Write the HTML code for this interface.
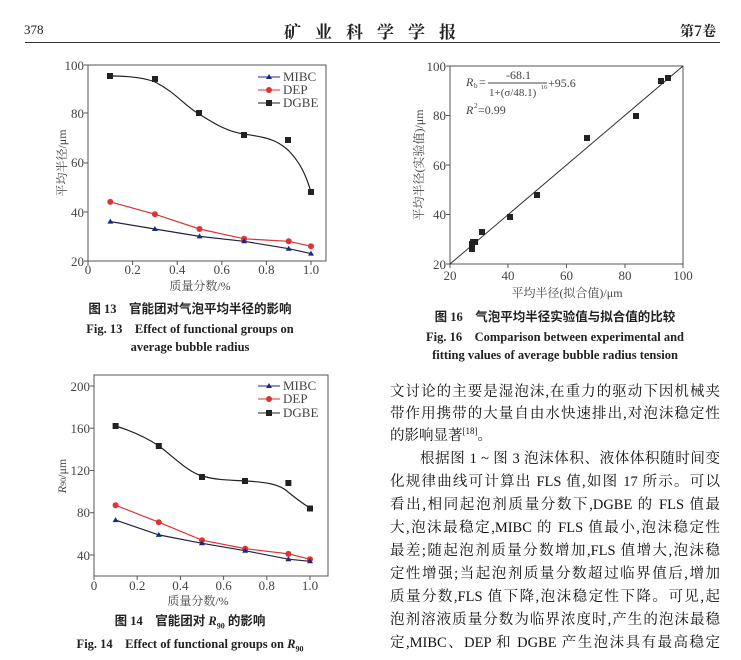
<!DOCTYPE html>
<html><head><meta charset="utf-8"><style>
body{margin:0;width:741px;height:660px;background:#fff;overflow:hidden;position:relative;font-family:"Liberation Serif","Noto Serif CJK SC",serif;color:#222}
.t{position:absolute;white-space:nowrap}
.c{position:absolute;white-space:nowrap;font-weight:bold;font-size:12.5px;transform:translateX(-50%)}
.cap{font-family:"Liberation Serif","Noto Sans CJK SC",sans-serif}
.p{position:absolute;left:390px;width:330px;font-size:14.5px;height:22px;line-height:22px;text-align:justify;text-align-last:justify;white-space:nowrap;overflow:visible;font-family:"Liberation Serif","Noto Serif CJK SC",serif;color:#111}
.p sup{line-height:0}
svg text{font-family:"Liberation Serif","Noto Serif CJK SC",serif;fill:#444}
</style></head><body>
<div class="t" style="left:24px;top:22px;font-size:13px">378</div>
<div class="t" style="left:284px;top:18px;font-size:17px;font-weight:bold;letter-spacing:14px;font-family:'Noto Serif CJK SC',serif">矿业科学学报</div>
<div class="t" style="left:680px;top:21px;font-size:14px;font-weight:bold;font-family:'Noto Serif CJK SC',serif">第7卷</div>
<div style="position:absolute;left:25px;top:42px;width:695px;height:1px;background:#333"></div>

<svg width="741" height="660" style="position:absolute;left:0;top:0">
<!-- Chart 13 -->
<rect x="88" y="65" width="238" height="196" fill="none" stroke="#555" stroke-width="1"/>
<g stroke="#555">
<line x1="88" y1="261" x2="88" y2="265"/><line x1="132.6" y1="261" x2="132.6" y2="265"/><line x1="177.2" y1="261" x2="177.2" y2="265"/><line x1="221.8" y1="261" x2="221.8" y2="265"/><line x1="266.4" y1="261" x2="266.4" y2="265"/><line x1="311" y1="261" x2="311" y2="265"/>
<line x1="84" y1="65" x2="88" y2="65"/><line x1="84" y1="113" x2="88" y2="113"/><line x1="84" y1="163" x2="88" y2="163"/><line x1="84" y1="212" x2="88" y2="212"/><line x1="84" y1="261" x2="88" y2="261"/>
</g>
<g font-size="13" text-anchor="end"><text x="84" y="70">100</text><text x="84" y="118">80</text><text x="84" y="167">60</text><text x="84" y="217">40</text><text x="84" y="266">20</text></g>
<g font-size="13" text-anchor="middle"><text x="88" y="274">0</text><text x="132.6" y="274">0.2</text><text x="177.2" y="274">0.4</text><text x="221.8" y="274">0.6</text><text x="266.4" y="274">0.8</text><text x="311" y="274">1.0</text></g>
<text x="200" y="290" font-size="12" text-anchor="middle">质量分数/%</text>
<text transform="translate(66,163) rotate(-90)" font-size="12" text-anchor="middle">平均半径/μm</text>
<path d="M110,76 C130,76 145,78 155,82 C175,92 185,106 199,114 C215,124 228,132 244,134 C262,137 275,138 288,150 C300,162 306,175 311,192" fill="none" stroke="#222" stroke-width="1.2"/>
<g fill="#222"><rect x="107" y="73" width="6" height="6"/><rect x="152" y="76" width="6" height="6"/><rect x="196" y="110" width="6" height="6"/><rect x="241" y="132" width="6" height="6"/><rect x="285" y="137" width="6" height="6"/><rect x="308" y="189" width="6" height="6"/></g>
<polyline points="110.3,201.9 154.9,214.2 199.5,229 244.1,238.8 288.7,241.3 311,246.2" fill="none" stroke="#d33" stroke-width="1.2"/>
<g fill="#d33"><circle cx="110.3" cy="201.9" r="3"/><circle cx="154.9" cy="214.2" r="3"/><circle cx="199.5" cy="229" r="3"/><circle cx="244.1" cy="238.8" r="3"/><circle cx="288.7" cy="241.3" r="3"/><circle cx="311" cy="246.2" r="3"/></g>
<polyline points="110.3,221.6 154.9,229 199.5,236.4 244.1,241.3 288.7,248.7 311,253.6" fill="none" stroke="#224" stroke-width="1.2"/>
<g fill="#1a2a80"><path d="M110.3,218.6l3,5h-6z"/><path d="M154.9,226l3,5h-6z"/><path d="M199.5,233.4l3,5h-6z"/><path d="M244.1,238.3l3,5h-6z"/><path d="M288.7,245.7l3,5h-6z"/><path d="M311,250.6l3,5h-6z"/></g>
<line x1="258" y1="77" x2="280" y2="77" stroke="#22a"/><path d="M269,74l3,5h-6z" fill="#1a2a80"/>
<line x1="258" y1="90" x2="280" y2="90" stroke="#d33"/><circle cx="269" cy="90" r="3" fill="#d33"/>
<line x1="258" y1="103" x2="280" y2="103" stroke="#222"/><rect x="266" y="100" width="6" height="6" fill="#222"/>
<g font-size="13"><text x="283" y="81">MIBC</text><text x="283" y="94">DEP</text><text x="283" y="107">DGBE</text></g>

<!-- Chart 16 -->
<rect x="450" y="66" width="233" height="198" fill="none" stroke="#555"/>
<g stroke="#555">
<line x1="450" y1="264" x2="450" y2="268"/><line x1="508" y1="264" x2="508" y2="268"/><line x1="566.5" y1="264" x2="566.5" y2="268"/><line x1="625" y1="264" x2="625" y2="268"/><line x1="683" y1="264" x2="683" y2="268"/>
<line x1="446" y1="66" x2="450" y2="66"/><line x1="446" y1="115.5" x2="450" y2="115.5"/><line x1="446" y1="165" x2="450" y2="165"/><line x1="446" y1="214.5" x2="450" y2="214.5"/><line x1="446" y1="264" x2="450" y2="264"/>
</g>
<g font-size="13" text-anchor="end"><text x="446" y="71">100</text><text x="446" y="120">80</text><text x="446" y="170">60</text><text x="446" y="219">40</text><text x="446" y="269">20</text></g>
<g font-size="13" text-anchor="middle"><text x="450" y="280">20</text><text x="508" y="280">40</text><text x="566.5" y="280">60</text><text x="625" y="280">80</text><text x="683" y="280">100</text></g>
<text x="567" y="297" font-size="12" text-anchor="middle">平均半径(拟合值)/μm</text>
<text transform="translate(423,165) rotate(-90)" font-size="12" text-anchor="middle">平均半径(实验值)/μm</text>
<line x1="450" y1="264" x2="683" y2="66" stroke="#333" stroke-width="1"/>
<g fill="#222"><rect x="469" y="246" width="6" height="6"/><rect x="469" y="241" width="6" height="6"/><rect x="470" y="239" width="6" height="6"/><rect x="472" y="239" width="6" height="6"/><rect x="479" y="229" width="6" height="6"/><rect x="507" y="214" width="6" height="6"/><rect x="534" y="192" width="6" height="6"/><rect x="584" y="135" width="6" height="6"/><rect x="633" y="113" width="6" height="6"/><rect x="658" y="78" width="6" height="6"/><rect x="665" y="75" width="6" height="6"/></g>
<g font-size="12"><text x="466" y="86" font-style="italic">R</text><text x="474" y="88" font-size="7">b</text><text x="479" y="86">=</text>
<text x="506" y="79">-68.1</text><line x1="488" y1="83" x2="547" y2="83" stroke="#444"/><text x="489" y="96" font-size="11">1+(σ/48.1)</text><text x="541" y="89" font-size="6">16</text><text x="548" y="87">+95.6</text>
<text x="466" y="114" font-style="italic">R</text><text x="474" y="108" font-size="7">2</text><text x="478" y="114">=0.99</text></g>

<!-- Chart 14 -->
<rect x="94" y="375" width="234" height="201" fill="none" stroke="#555"/>
<g stroke="#555">
<line x1="94" y1="576" x2="94" y2="580"/><line x1="137.2" y1="576" x2="137.2" y2="580"/><line x1="180.4" y1="576" x2="180.4" y2="580"/><line x1="223.6" y1="576" x2="223.6" y2="580"/><line x1="266.8" y1="576" x2="266.8" y2="580"/><line x1="310" y1="576" x2="310" y2="580"/>
<line x1="90" y1="386" x2="94" y2="386"/><line x1="90" y1="428.2" x2="94" y2="428.2"/><line x1="90" y1="470.5" x2="94" y2="470.5"/><line x1="90" y1="512.7" x2="94" y2="512.7"/><line x1="90" y1="555" x2="94" y2="555"/>
</g>
<g font-size="13" text-anchor="end"><text x="90" y="391">200</text><text x="90" y="433">160</text><text x="90" y="475">120</text><text x="90" y="517">80</text><text x="90" y="560">40</text></g>
<g font-size="13" text-anchor="middle"><text x="94" y="590">0</text><text x="137.2" y="590">0.2</text><text x="180.4" y="590">0.4</text><text x="223.6" y="590">0.6</text><text x="266.8" y="590">0.8</text><text x="310" y="590">1.0</text></g>
<text x="198" y="605" font-size="12" text-anchor="middle">质量分数/%</text>
<text transform="translate(66,476) rotate(-90)" font-size="12" text-anchor="middle"><tspan font-style="italic">R</tspan><tspan font-size="8">90</tspan>/μm</text>
<path d="M115.6,426 C135,432 150,440 159,446 C175,458 188,472 202,476 C220,481 235,480 245,481 C265,482 280,484 288,492 C298,500 305,505 310,508" fill="none" stroke="#222" stroke-width="1.2"/>
<g fill="#222"><rect x="112.6" y="423" width="6" height="6"/><rect x="155.8" y="443" width="6" height="6"/><rect x="199" y="474" width="6" height="6"/><rect x="242" y="478" width="6" height="6"/><rect x="285.4" y="480" width="6" height="6"/><rect x="307" y="505.5" width="6" height="6"/></g>
<polyline points="115.6,505.3 158.8,522.2 202,540.2 245.2,548.6 288.4,553.9 310,559.2" fill="none" stroke="#d33" stroke-width="1.2"/>
<g fill="#d33"><circle cx="115.6" cy="505.3" r="3"/><circle cx="158.8" cy="522.2" r="3"/><circle cx="202" cy="540.2" r="3"/><circle cx="245.2" cy="548.6" r="3"/><circle cx="288.4" cy="553.9" r="3"/><circle cx="310" cy="559.2" r="3"/></g>
<polyline points="115.6,520.1 158.8,534.9 202,543.3 245.2,550.7 288.4,559.2 310,561.3" fill="none" stroke="#224" stroke-width="1.2"/>
<g fill="#1a2a80"><path d="M115.6,517.1l3,5h-6z"/><path d="M158.8,531.9l3,5h-6z"/><path d="M202,540.3l3,5h-6z"/><path d="M245.2,547.7l3,5h-6z"/><path d="M288.4,556.2l3,5h-6z"/><path d="M310,558.3l3,5h-6z"/></g>
<line x1="258" y1="386" x2="280" y2="386" stroke="#22a"/><path d="M269,383l3,5h-6z" fill="#1a2a80"/>
<line x1="258" y1="399" x2="280" y2="399" stroke="#d33"/><circle cx="269" cy="399" r="3" fill="#d33"/>
<line x1="258" y1="413" x2="280" y2="413" stroke="#222"/><rect x="266" y="410" width="6" height="6" fill="#222"/>
<g font-size="13"><text x="283" y="390">MIBC</text><text x="283" y="403">DEP</text><text x="283" y="417">DGBE</text></g>
</svg>

<div class="c cap" style="left:190px;top:298px">图 13　官能团对气泡平均半径的影响</div>
<div class="c" style="left:190px;top:319px">Fig. 13　Effect of functional groups on</div>
<div class="c" style="left:190px;top:340px">average bubble radius</div>
<div class="c cap" style="left:555px;top:306px">图 16　气泡平均半径实验值与拟合值的比较</div>
<div class="c" style="left:555px;top:327px">Fig. 16　Comparison between experimental and</div>
<div class="c" style="left:555px;top:348px">fitting values of average bubble radius tension</div>
<div class="c cap" style="left:190px;top:610px">图 14　官能团对 <i>R</i><sub style="font-size:8px;line-height:0">90</sub> 的影响</div>
<div class="c" style="left:190px;top:634px">Fig. 14　Effect of functional groups on <i>R</i><sub style="font-size:8px;line-height:0">90</sub></div>

<div class="p" style="top:381px">文讨论的主要是湿泡沫,在重力的驱动下因机械夹</div>
<div class="p" style="top:403px">带作用携带的大量自由水快速排出,对泡沫稳定性</div>
<div class="p" style="top:425px;text-align-last:left">的影响显著<sup style="font-size:9px">[18]</sup>。</div>
<div class="p" style="top:448px;left:420px;width:300px">根据图 1 ~ 图 3 泡沫体积、液体体积随时间变</div>
<div class="p" style="top:471px">化规律曲线可计算出 FLS 值,如图 17 所示。可以</div>
<div class="p" style="top:494px">看出,相同起泡剂质量分数下,DGBE 的 FLS 值最</div>
<div class="p" style="top:517px">大,泡沫最稳定,MIBC 的 FLS 值最小,泡沫稳定性</div>
<div class="p" style="top:540px">最差;随起泡剂质量分数增加,FLS 值增大,泡沫稳</div>
<div class="p" style="top:563px">定性增强;当起泡剂质量分数超过临界值后,增加</div>
<div class="p" style="top:586px">质量分数,FLS 值下降,泡沫稳定性下降。可见,起</div>
<div class="p" style="top:609px">泡剂溶液质量分数为临界浓度时,产生的泡沫最稳</div>
<div class="p" style="top:632px">定,MIBC、DEP 和 DGBE 产生泡沫具有最高稳定</div>
</body></html>
